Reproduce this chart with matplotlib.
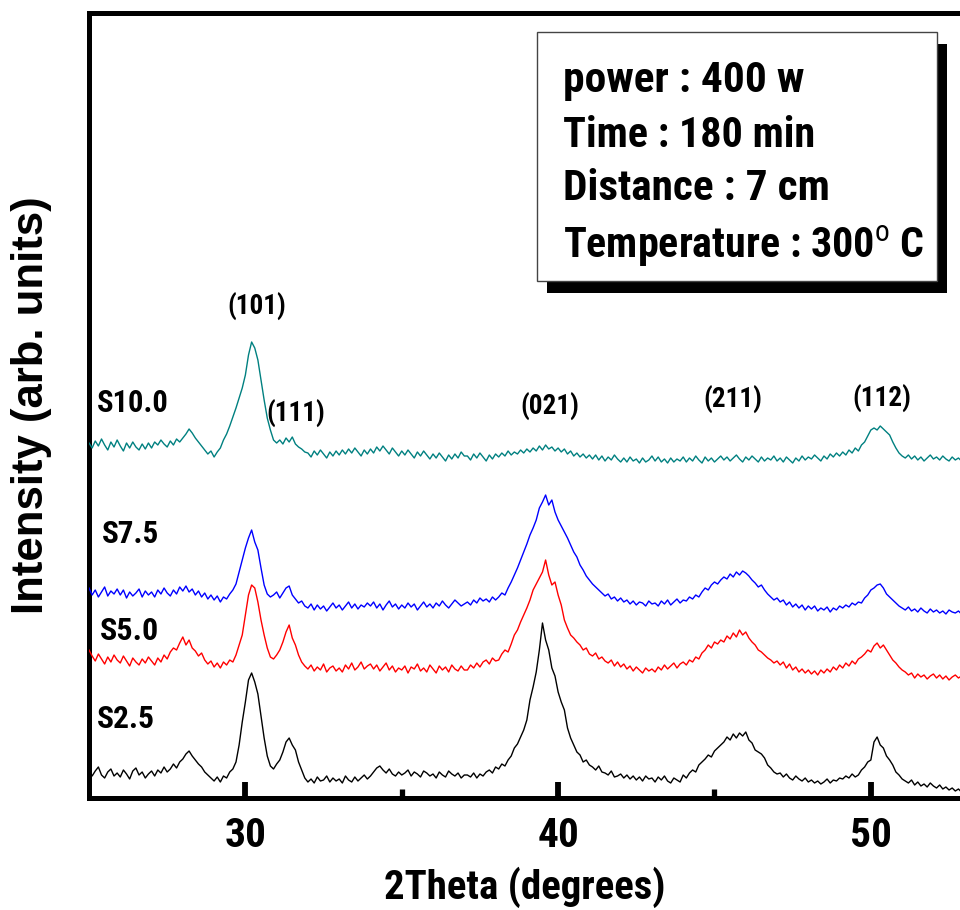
import numpy as np
import matplotlib
matplotlib.use("Agg")
import matplotlib.pyplot as plt
import matplotlib.font_manager as fm
from matplotlib.patches import Rectangle

# ---------------- data (intensity, arb. units) ----------------
theta_start = 25.0
theta_step = 0.1

s25 = [
    30, 24, 29, 33, 25, 22, 28, 31, 24, 27,
    23, 30, 26, 21, 29, 32, 25, 28, 22, 26,
    29, 24, 30, 27, 33, 28, 31, 36, 32, 38,
    41, 46, 49, 44, 40, 36, 33, 28, 25, 22,
    19, 23, 18, 24, 22, 28, 31, 38, 55, 78,
    98, 120, 127, 118, 106, 84, 62, 44, 34, 31,
    36, 40, 48, 58, 62, 55, 50, 38, 30, 22,
    18, 21, 17, 23, 19, 20, 24, 18, 22, 19,
    21, 17, 24, 20, 18, 23, 19, 22, 25, 21,
    24, 28, 32, 34, 30, 27, 31, 26, 24, 28,
    25, 27, 30, 24, 28, 26, 23, 29, 27, 24,
    26, 22, 28, 25, 23, 29, 26, 24, 27, 22, 25,
    25, 23, 27, 22, 26, 24, 28, 30, 27, 33,
    31, 36, 34, 40, 44, 52, 56, 63, 70, 80,
    100, 113, 128, 150, 177, 160, 150, 132, 124, 108,
    98, 90, 72, 62, 55, 48, 45, 38, 40, 35,
    33, 30, 34, 28, 27, 25, 29, 23, 24, 26,
    22, 25, 21, 24, 20, 23, 19, 24, 21, 22,
    18, 23, 20, 24, 19, 17, 22, 20, 18, 25,
    22, 27, 30, 28, 35, 38, 41, 45, 43, 49,
    52, 55, 58, 63, 60, 66, 62, 67, 64, 68,
    60, 57, 50, 48, 46, 42, 35, 32, 28, 26,
    27, 23, 26, 22, 20, 24, 21, 19, 22, 18,
    20, 17, 19, 16, 18, 21, 17, 20, 19, 22,
    21, 24, 22, 26, 23, 25, 30, 33, 38, 40,
    58, 63, 55, 52, 44, 40, 35, 28, 25, 21,
    19, 17, 20, 15, 18, 14, 16, 13, 17, 14,
    12, 15, 11, 13, 10, 12, 9, 11, 8,
]

s50 = [
    150, 144, 139, 146, 141, 136, 143, 138, 145, 140,
    137, 144, 139, 134, 142, 138, 135, 141, 137, 143,
    139, 135, 142, 138, 145, 141, 148, 152, 150, 157,
    163, 155, 160, 152, 149, 144, 147, 140, 136, 139,
    133, 137, 132, 138, 135, 140, 138, 145, 155, 165,
    185, 205, 215, 212, 198, 180, 165, 152, 143, 141,
    145, 150, 158, 168, 175, 162, 155, 145, 138, 134,
    131, 135, 129, 133, 130, 136, 128, 132, 134, 129,
    132, 128, 135, 131, 137, 130, 133, 138, 131, 134,
    136, 131, 135, 129, 133, 137, 130, 134, 128, 132,
    130, 134, 127, 133, 131, 136, 129, 132, 128, 135,
    131, 127, 134, 130, 133, 128, 135, 131, 129, 134, 130,
    130, 135, 132, 137, 133, 138, 140, 136, 142, 139,
    140, 146, 150, 148, 156, 165, 170, 178, 185, 192,
    200, 210, 216, 222, 228, 240, 225, 215, 218, 205,
    195, 180, 172, 165, 162, 158, 155, 150, 152, 146,
    144, 147, 141, 143, 139, 137, 140, 134, 138, 133,
    136, 131, 134, 129, 133, 130, 127, 132, 129, 131,
    128, 133, 130, 135, 131, 134, 137, 132, 136, 138,
    135, 140, 138, 143, 141, 147, 150, 155, 152, 158,
    156, 160, 158, 164, 161, 167, 163, 170, 165, 168,
    162, 158, 155, 150, 148, 145, 142, 140, 137, 139,
    135, 138, 132, 136, 130, 133, 128, 131, 127, 130,
    126, 129, 125, 130, 127, 131, 128, 133, 130, 135,
    132, 137, 134, 139, 136, 141, 143, 146, 150, 148,
    154, 157, 152, 155, 150, 145, 140, 137, 133, 130,
    128, 125, 127, 122, 126, 123, 125, 121, 124, 126,
    122, 125, 121, 124, 120, 123, 125, 122, 124,
]

s75 = [
    212, 205, 210, 203, 208, 213, 204, 209, 206, 211,
    205, 210, 202, 208, 204, 207, 211, 203, 209, 205,
    208, 203, 210, 206, 212, 207, 204, 210, 206, 213,
    209, 214, 208, 211, 205, 209, 203, 207, 201, 205,
    200, 204, 198, 203, 201, 206, 210, 216, 228, 240,
    252, 262, 270, 258, 250, 232, 215, 206, 203, 205,
    208, 202, 207, 212, 214, 205, 201, 197, 199, 194,
    192, 196, 190, 195, 191, 194, 189, 193, 197, 192,
    195, 190, 194, 198, 192, 196, 191, 195, 193, 197,
    194, 198, 192, 196, 190, 195, 199, 193, 196, 191,
    195, 192, 197, 193, 196, 190, 194, 198, 193, 196,
    192, 197, 194, 199, 195, 192, 196, 200, 197, 194, 196,
    198, 195, 200, 197, 202, 199, 201, 198, 203, 200,
    203, 207, 205, 212, 218, 225, 232, 240, 248, 256,
    265, 272, 280, 292, 298, 305, 295, 300, 288, 280,
    274, 268, 262, 255, 248, 243, 235, 230, 224, 220,
    216, 213, 210, 207, 204, 206, 201, 203, 199, 202,
    198, 200, 196, 199, 195, 198, 197, 194, 199, 196,
    197, 194, 199, 196, 200, 195, 198, 201, 197, 200,
    199, 203, 201, 205, 203, 208, 212, 210, 215, 218,
    216, 220, 223, 221, 226, 223, 228, 225, 229, 227,
    224, 220, 217, 213, 215, 210, 206, 203, 200, 202,
    198, 200, 195, 198, 193, 196, 192, 195, 190, 194,
    191, 194, 189, 192, 190, 193, 188, 192, 190, 194,
    192, 195, 193, 197, 195, 198, 197, 202, 205, 210,
    212, 215, 216, 212, 206, 203, 200, 197, 194, 192,
    190, 193, 189, 191, 188, 192, 189, 187, 191, 188,
    190, 187, 189, 186, 190, 188, 187, 189, 186,
]

s100 = [
    357, 352, 359, 354, 361, 355, 350, 358, 353, 360,
    354, 349, 357, 352, 358, 353, 350, 356, 351, 357,
    352, 358, 355, 360, 356, 353, 359, 355, 361, 358,
    362, 366, 371, 367, 362, 358, 354, 350, 346, 349,
    343, 348, 352, 360, 366, 374, 383, 392, 402, 412,
    425, 445, 458, 452, 440, 420, 400, 382, 370, 360,
    357, 360, 356, 362, 358, 363, 356, 353, 351, 348,
    347, 343, 349, 345, 350, 346, 342, 348, 344, 349,
    345, 350, 346, 351, 347, 352, 348, 344, 350, 346,
    351, 347, 353, 349, 354, 350, 346, 352, 348, 344,
    349, 345, 350, 346, 342, 348, 344, 349, 345, 341,
    346, 342, 347, 343, 339, 345, 341, 346, 342, 348, 344,
    344, 340, 346, 342, 347, 343, 339, 345, 341, 346,
    343, 347, 344, 349, 345, 348, 346, 350, 347, 351,
    348, 352, 349, 354, 350, 355, 351, 353, 349, 352,
    348, 351, 346, 349, 344, 347, 343, 346, 342, 345,
    341, 345, 340, 344, 339, 343, 340, 345, 341, 338,
    342, 338, 343, 339, 341, 337, 342, 338, 340, 344,
    339, 343, 338, 341, 337, 342, 338, 341, 339, 343,
    338, 342, 339, 344, 340, 337, 343, 339, 342, 338,
    341, 344, 340, 343, 339, 342, 345, 341, 338, 343,
    340, 344, 341, 338, 343, 339, 342, 340, 344, 339,
    342, 338, 343, 340, 337, 342, 339, 344, 340, 343,
    341, 345, 342, 339, 344, 341, 346, 343, 347, 344,
    348, 345, 350, 347, 352, 349, 355, 358, 364, 370,
    372, 370, 374, 371, 368, 365, 358, 352, 347, 344,
    342, 345, 341, 344, 340, 343, 339, 342, 345, 341,
    343, 340, 344, 341, 339, 343, 340, 342, 339,
]

series_names = ["S2.5", "S5.0", "S7.5", "S10.0"]
series_values = [s25, s50, s75, s100]
series_colors = ["#000000", "#ff0000", "#0000ff", "#008080"]

x_ticks = [30, 40, 50]
x_tick_labels = ["30", "40", "50"]
x_minor = [35, 45]

peak_labels = ["(101)", "(111)", "(021)", "(211)", "(112)"]
peak_pos = [(30.35, 485), (31.62, 378), (39.72, 385), (45.6, 392), (50.35, 393)]
name_pos = [(25.26, 72), (25.36, 160), (25.42, 257), (25.26, 388)]

info_lines = ["power : 400 w", "Time : 180 min", "Distance : 7 cm",
              r"Temperature : 300$^{\mathrm{o}}$ C"]

# ---------------- fonts: prefer a narrow sans if one is installed ----------------
_names = sorted({f.name for f in fm.fontManager.ttflist})
_pref = ["Liberation Sans Narrow", "Arial Narrow", "Roboto Condensed",
         "Open Sans Condensed", "Noto Sans Condensed", "DejaVu Sans Condensed"]
NAR = next((c for c in _pref if c in _names), None)
if NAR is None:
    NAR = next((n for n in _names if ("Narrow" in n or "Condensed" in n)
                and "Mono" not in n and "Serif" not in n and "CJK" not in n), None)
NARROW = ([NAR] if NAR else []) + ["Liberation Sans", "DejaVu Sans"]
WIDE = ["Liberation Sans", "DejaVu Sans"]
plt.rcParams["mathtext.fontset"] = "custom"
plt.rcParams["mathtext.rm"] = NARROW[0]
plt.rcParams["mathtext.bf"] = NARROW[0] + ":bold"

W, H = 960, 910
fig = plt.figure(figsize=(W / 100, H / 100), dpi=100)
ax_left, ax_right, ax_top, ax_bot = 89, 960, 13, 798
ax = fig.add_axes([ax_left / W, 1 - ax_bot / H, (ax_right - ax_left) / W, (ax_bot - ax_top) / H])

n = len(s25)
two_theta = theta_start + theta_step * np.arange(n)

for vals, col in zip(series_values, series_colors):
    ax.plot(two_theta, vals, color=col, lw=1.0, zorder=3)

ax.set_xlim(25.0, 52.85)
ax.set_ylim(2, 787)

for side in ["left", "top", "bottom"]:
    ax.spines[side].set_linewidth(3.6)
ax.spines["right"].set_visible(False)

ax.set_xticks(x_ticks)
ax.set_xticklabels(x_tick_labels)
ax.set_xticks(x_minor, minor=True)
ax.tick_params(axis="x", which="major", direction="in", length=11.5, width=4.2,
               pad=14, top=False)
ax.tick_params(axis="x", which="minor", direction="in", length=6.5, width=3.8, top=False)
ax.set_yticks(np.arange(22, 787, 20))
ax.tick_params(axis="y", which="major", direction="inout", length=2.5, width=1.2,
               labelleft=False, right=False)

for lab in ax.get_xticklabels():
    lab.set_fontfamily(NARROW)
    lab.set_fontweight("bold")
    lab.set_fontsize(30)

xl = ax.set_xlabel("2Theta (degrees)", fontfamily=NARROW, fontweight="bold", fontsize=30)
ax.xaxis.set_label_coords(0.5, -0.087)
ax.set_ylabel("Intensity (arb. units)", fontfamily=WIDE, fontweight="bold", fontsize=31.5)
ax.yaxis.set_label_coords(-0.0425, 0.5)

fitted = []  # (text, target width in px)
for name, (px, py) in zip(series_names, name_pos):
    t = ax.text(px, py, name, fontfamily=NARROW, fontweight="bold", fontsize=22,
                ha="left", va="baseline", zorder=5)
    fitted.append((t, {"S10.0": 72, "S7.5": 57, "S5.0": 59, "S2.5": 58}[name]))

for lab, (px, py) in zip(peak_labels, peak_pos):
    t = ax.text(px, py, lab, fontfamily=NARROW, fontweight="bold", fontsize=20,
                ha="center", va="baseline", zorder=5)
    fitted.append((t, 59))

# info box with drop shadow (figure pixel coordinates)
bx0, bx1, by0, by1 = 537, 937, 32, 281
shadow = Rectangle(((bx0 + 10) / W, 1 - (by1 + 12) / H), (bx1 - bx0) / W, (by1 - by0) / H,
                   transform=fig.transFigure, facecolor="black", edgecolor="none",
                   zorder=10, clip_on=False)
box = Rectangle((bx0 / W, 1 - by1 / H), (bx1 - bx0) / W, (by1 - by0) / H,
                transform=fig.transFigure, facecolor="white", edgecolor="#444444",
                lw=1.0, zorder=11, clip_on=False)
ax.add_patch(shadow)
ax.add_patch(box)

baselines = [92, 147, 200, 258]
box_widths = [242, 252, 267, 361]
for line, b, bw in zip(info_lines, baselines, box_widths):
    t = ax.text(563 / W, 1 - b / H, line, transform=fig.transFigure, fontfamily=NARROW,
                fontweight="bold", fontsize=30, ha="left", va="baseline", zorder=12)
    fitted.append((t, bw))
fitted.append((xl, 282))

# fit text widths to the reference (font metrics differ from the original font)
fig.canvas.draw()
r = fig.canvas.get_renderer()
for t, target in fitted:
    w = t.get_window_extent(r).width
    t.set_fontsize(min(t.get_fontsize() * target / w, 40))
tl = ax.get_xticklabels()
w = tl[0].get_window_extent(r).width
new_size = tl[0].get_fontsize() * 42 / w
for lab in tl:
    lab.set_fontsize(min(new_size, 40))

fig.savefig("out.png", dpi=100)
